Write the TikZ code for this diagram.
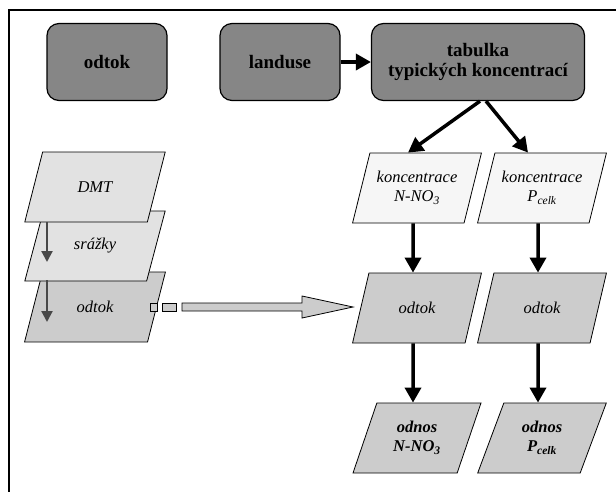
\documentclass[tikz,border=0pt]{standalone}
\usepackage{fontspec}
\setmainfont{Liberation Serif}
\usetikzlibrary{arrows.meta,shapes.geometric}
\definecolor{boxgray}{RGB}{134,134,134}
\definecolor{paper}{RGB}{246,246,246}
\definecolor{layergray}{RGB}{226,226,226}
\definecolor{flowgray}{RGB}{204,204,204}
\definecolor{stackarrow}{RGB}{72,72,72}

\begin{document}
\begin{tikzpicture}[x=1pt, y=-1pt,
    topbox/.style={draw, rounded corners=12pt, fill=boxgray, line width=1.2pt,
                   minimum height=77pt, align=center,
                   font=\fontsize{19}{20}\selectfont\bfseries},
    layer/.style={draw, trapezium, trapezium left angle=68, trapezium right angle=112,
                  trapezium stretches=true, minimum height=70pt, minimum width=129pt,
                  line width=0.8pt, align=center,
                  font=\fontsize{16.5}{19}\selectfont\itshape},
    flow/.style={line width=3.5pt, -{Triangle[width=16pt,length=15pt]}}]
    \useasboundingbox (0,0) rectangle (616,491);
    % Frame
    \draw[line width=1.6pt] (9,520) -- (9,10) -- (640,10);
    % Input tables
    \node[topbox, minimum width=120pt] (odtokT)  at (107,62) {odtok};
    \node[topbox, minimum width=120pt] (landuse) at (280,62) {landuse};
    \node[topbox, minimum width=213pt] (tabulka) at (478,62) {tabulka\\typických koncentrací};
    % Layer stack
    \node[layer, fill=flowgray,  minimum width=141pt] (odtokL) at (95,307) {odtok};
    \node[layer, fill=layergray, minimum width=141pt] (srazky) at (95,246) {srážky};
    \node[layer, fill=layergray, minimum width=141pt] (dmt)    at (95,187) {DMT};
    \coordinate (dmtfoot) at (47,222);
    \coordinate (srafoot) at (47,280);
    \draw[stackarrow, line width=2.2pt, -{Triangle[width=11pt,length=11pt]}] (dmtfoot) -- ++(0,40);
    \draw[stackarrow, line width=2.2pt, -{Triangle[width=11pt,length=11pt]}] (srafoot) -- ++(0,42);
    % N-NO3 column
    \node[layer, fill=paper]    (koncN)  at (417,188) {koncentrace\\N-NO\textsubscript{3}};
    \node[layer, fill=flowgray] (odtokN) at (417,308) {odtok};
    \node[layer, fill=flowgray, font=\fontsize{16.5}{19}\selectfont\bfseries\itshape]
          (odnosN) at (417,438) {odnos\\N-NO\textsubscript{3}};
    % P column
    \node[layer, fill=paper]    (koncP)  at (542,188) {koncentrace\\P\textsubscript{celk}};
    \node[layer, fill=flowgray] (odtokP) at (542,308) {odtok};
    \node[layer, fill=flowgray, font=\fontsize{16.5}{19}\selectfont\bfseries\itshape]
          (odnosP) at (542,438) {odnos\\P\textsubscript{celk}};
    % Connectors
    \draw[flow] (landuse) -- (tabulka);
    \draw[flow] ([xshift=2pt]tabulka.south) -- ([xshift=-9pt]koncN.north);
    \draw[flow] ([xshift=8pt]tabulka.south) -- ([xshift=-14pt]koncP.north);
    \draw[flow] ([xshift=-4pt]koncN.south) -- ([xshift=-4pt]odtokN.north);
    \draw[flow] ([xshift=-4pt]koncP.south) -- ([xshift=-4pt]odtokP.north);
    \draw[flow] ([xshift=-4pt]odtokN.south) -- ([xshift=-4pt]odnosN.north);
    \draw[flow] ([xshift=-4pt]odtokP.south) -- ([xshift=-4pt]odnosP.north);
    % Runoff grid passed on
    \draw[fill=flowgray, line width=0.8pt] (150,303) rectangle (157,311);
    \draw[fill=flowgray, line width=0.8pt] (162,303) rectangle (176,311);
    \draw[fill=flowgray, line width=0.8pt] (182,303) -- (302,303) -- (302,296) -- (353,307)
        -- (302,318) -- (302,311) -- (182,311) -- cycle;
\end{tikzpicture}
\end{document}
